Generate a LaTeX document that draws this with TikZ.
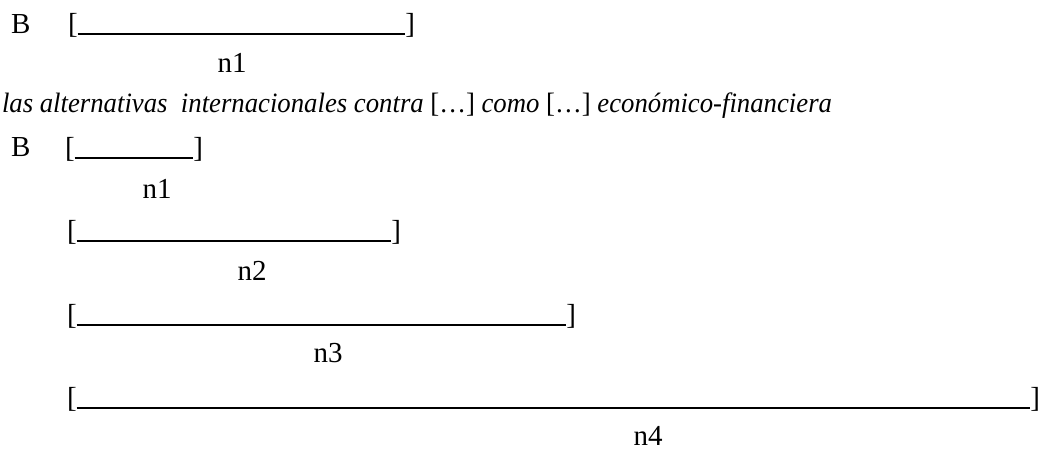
\documentclass[tikz,border=0pt]{standalone}
\usepackage{fontspec}
\setmainfont{Liberation Serif}
\begin{document}
\begin{tikzpicture}[x=1pt,y=-1pt,
  every node/.style={inner sep=0pt,outer sep=0pt,font=\fontsize{29}{33}\selectfont},
  lb/.style={anchor=base west},
  rb/.style={anchor=base east},
  lab/.style={anchor=base},
  bar/.style={line width=1.4pt}]
\useasboundingbox (0,0) rectangle (1042,450);
% row 1
\node[lb] (B1) at (11,33) {B};
\node[lb] (l1) at (68,33) {[};
\node[rb] (r1) at (415,33) {]};
\draw[bar] ([yshift=-1pt]l1.base east) -- ([yshift=-1pt]r1.base west);
\node[lab] (n1a) at (232,72) {n1};
% italic line
\node[lb,font=\fontsize{28}{32}\selectfont] (it) at (2,112) {\resizebox{830pt}{\height}{\itshape las alternativas\ \ internacionales contra \upshape[…]\itshape\ como \upshape[…]\itshape\ económico-financiera}};
% row 3
\node[lb] (B2) at (11,156) {B};
\node[lb] (l2) at (65,157) {[};
\node[rb] (r2) at (203,157) {]};
\draw[bar] ([yshift=-1pt]l2.base east) -- ([yshift=-1pt]r2.base west);
\node[lab] (n1b) at (157,198) {n1};
% row 4
\node[lb] (l3) at (67,240) {[};
\node[rb] (r3) at (401,240) {]};
\draw[bar] ([yshift=-1pt]l3.base east) -- ([yshift=-1pt]r3.base west);
\node[lab] (n2) at (252,280) {n2};
% row 5
\node[lb] (l4) at (67,324) {[};
\node[rb] (r4) at (576,324) {]};
\draw[bar] ([yshift=-1pt]l4.base east) -- ([yshift=-1pt]r4.base west);
\node[lab] (n3) at (328,362) {n3};
% row 6
\node[lb] (l5) at (67,407) {[};
\node[rb] (r5) at (1040,407) {]};
\draw[bar] ([yshift=-1pt]l5.base east) -- ([yshift=-1pt]r5.base west);
\node[lab] (n4) at (648,445) {n4};
\end{tikzpicture}
\end{document}
